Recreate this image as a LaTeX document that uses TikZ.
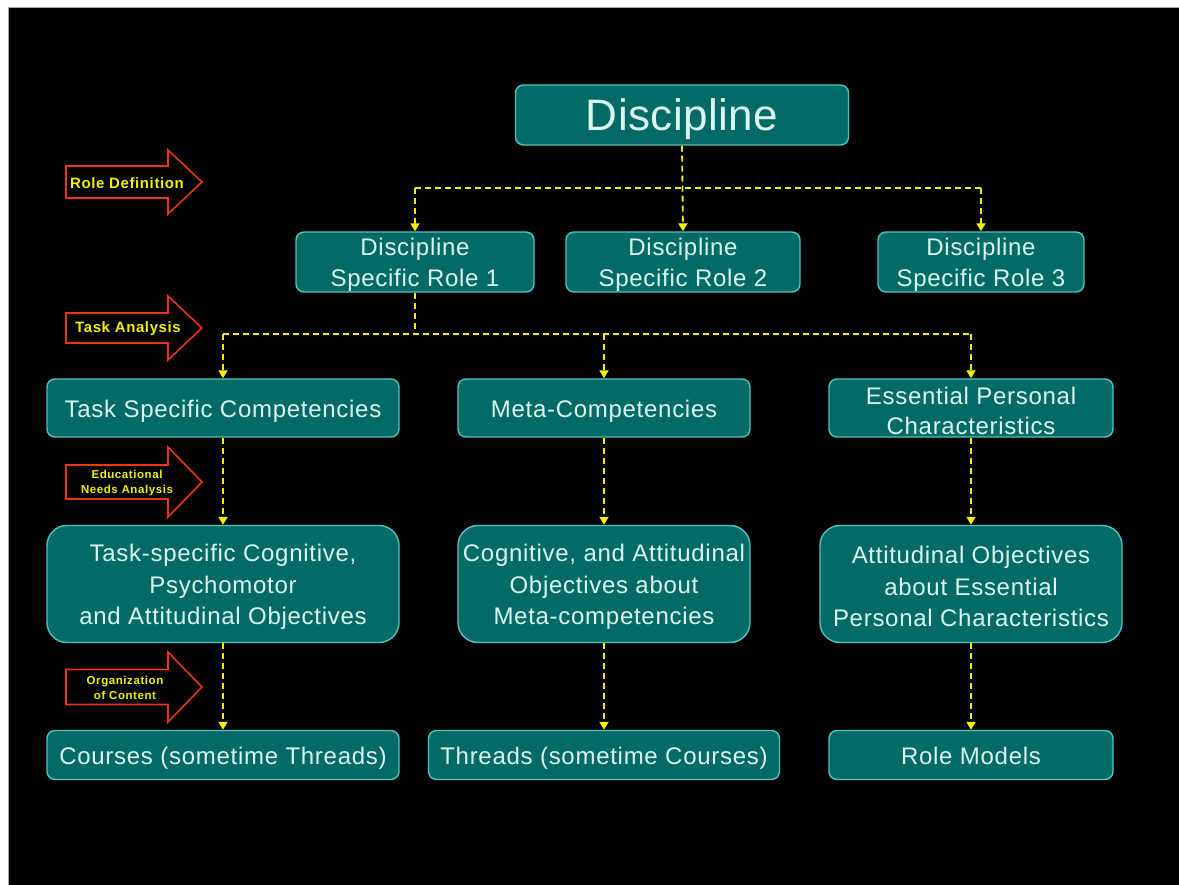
\documentclass[tikz,border=0pt]{standalone}
\usepackage{fontspec}
\setmainfont{Liberation Sans}
\newfontfamily\boxfont[LetterSpace=3]{Liberation Sans}
\newfontfamily\titlefont[LetterSpace=1]{Liberation Sans}
\newfontfamily\phasefont[LetterSpace=4]{Liberation Sans}
\newfontfamily\phasefontsmall[LetterSpace=5]{Liberation Sans}
\newcommand\pushdown{\rule{0pt}{23pt}}
\usetikzlibrary{arrows.meta}
\definecolor{boxfill}{HTML}{036A65}
\definecolor{boxline}{HTML}{50C4C0}
\definecolor{boxtext}{HTML}{DAF6F2}
\definecolor{dashy}{HTML}{F2F200}
\definecolor{arrred}{HTML}{E8380C}
\definecolor{labely}{HTML}{F0F000}
\tikzset{
  box/.style={draw=boxline, line width=1.4pt, fill=boxfill, rounded corners=8pt,
    text=boxtext, align=center, inner sep=0pt, font=\boxfont\fontsize{24}{30.5}\selectfont},
  oneline/.style={text height=19.5pt, text depth=1pt},
  bigbox/.style={box, rounded corners=20pt, font=\boxfont\fontsize{24}{31.5}\selectfont},
  conn/.style={draw=dashy, line width=1.8pt, dash pattern=on 6pt off 4pt,
    -{Triangle[width=9pt,length=8pt]}},
  bus/.style={draw=dashy, line width=1.8pt, dash pattern=on 6pt off 4pt},
  phase/.style={draw=arrred, line width=1.6pt, fill=black},
  phasetext/.style={text=labely, font=\phasefont\bfseries\fontsize{15}{17}\selectfont, align=center, inner sep=0pt},
  phasesmall/.style={phasetext, font=\phasefontsmall\bfseries\fontsize{11.5}{15.5}\selectfont}
}
\begin{document}
\begin{tikzpicture}[x=1pt,y=-1pt]
\useasboundingbox (0,0) rectangle (1179,885);
\fill[white] (0,0) rectangle (1179,885);
\fill[black] (8,8) rectangle (1179,885);
\draw[gray!70, line width=1pt] (8,885) -- (8,8) -- (1179,8);

% boxes
\node[box, minimum width=333, minimum height=60, text depth=0pt, font=\titlefont\fontsize{44}{50}\selectfont] (disc) at (682,115) {Discipline};
\node[box, minimum width=238, minimum height=60] (role1) at (415,262) {\pushdown Discipline\\Specific Role 1};
\node[box, minimum width=234, minimum height=60] (role2) at (683,262) {\pushdown Discipline\\Specific Role 2};
\node[box, minimum width=206, minimum height=60] (role3) at (981,262) {\pushdown Discipline\\Specific Role 3};

\node[box, oneline, minimum width=352, minimum height=58] (tsc) at (223,408) {Task Specific Competencies};
\node[box, oneline, minimum width=292, minimum height=58] (meta) at (604,408) {Meta-Competencies};
\node[box, minimum width=284, minimum height=58] (epc) at (971,408) {\pushdown Essential Personal\\Characteristics};

\node[bigbox, minimum width=352, minimum height=117] (tso) at (223,584) {\pushdown Task-specific Cognitive,\\Psychomotor\\and Attitudinal Objectives};
\node[bigbox, minimum width=292, minimum height=117] (cao) at (604,584) {\pushdown Cognitive, and Attitudinal\\Objectives about\\Meta-competencies};
\node[bigbox, minimum width=302, minimum height=117] (aoe) at (971,584) {\pushdown Attitudinal Objectives\\about Essential\\Personal Characteristics};

\node[box, oneline, minimum width=352, minimum height=49] (courses) at (223,755) {Courses (sometime Threads)};
\node[box, oneline, minimum width=351, minimum height=49] (threads) at (604,755) {Threads (sometime Courses)};
\node[box, oneline, minimum width=284, minimum height=49] (models) at (971,755) {Role Models};

% connectors
\coordinate (bus1) at (0,188);
\coordinate (bus2) at (0,334);
\draw[conn] (disc.south) -- (role2.north);
\draw[bus] (role1.north |- bus1) -- (role3.north |- bus1);
\draw[conn] (role1.north |- bus1) -- (role1.north);
\draw[conn] (role3.north |- bus1) -- (role3.north);

\draw[bus] (role1.south) -- (role1.south |- bus2);
\draw[bus] (tsc.north |- bus2) -- (epc.north |- bus2);
\draw[conn] (tsc.north |- bus2) -- (tsc.north);
\draw[conn] (meta.north |- bus2) -- (meta.north);
\draw[conn] (epc.north |- bus2) -- (epc.north);

\draw[conn] (tsc.south) -- (tso.north);
\draw[conn] (meta.south) -- (cao.north);
\draw[conn] (epc.south) -- (aoe.north);
\draw[conn] (tso.south) -- (courses.north);
\draw[conn] (cao.south) -- (threads.north);
\draw[conn] (aoe.south) -- (models.north);

% phase arrows
\foreach \cy/\bh/\hh in {182/16/32, 328/15/32, 482/17/35, 687/17.5/35}{
  \draw[phase] (66,\cy-\bh) -- (168,\cy-\bh) -- (168,\cy-\hh) -- (202,\cy)
    -- (168,\cy+\hh) -- (168,\cy+\bh) -- (66,\cy+\bh) -- cycle;
}
\node[phasetext] (p1) at (127,183) {Role Definition};
\node[phasetext] (p2) at (128,329) {Task Analysis};
\node[phasesmall] (p3) at (127,483) {Educational\\Needs Analysis};
\node[phasesmall] (p4) at (125,688) {Organization\\of Content};
\end{tikzpicture}
\end{document}
